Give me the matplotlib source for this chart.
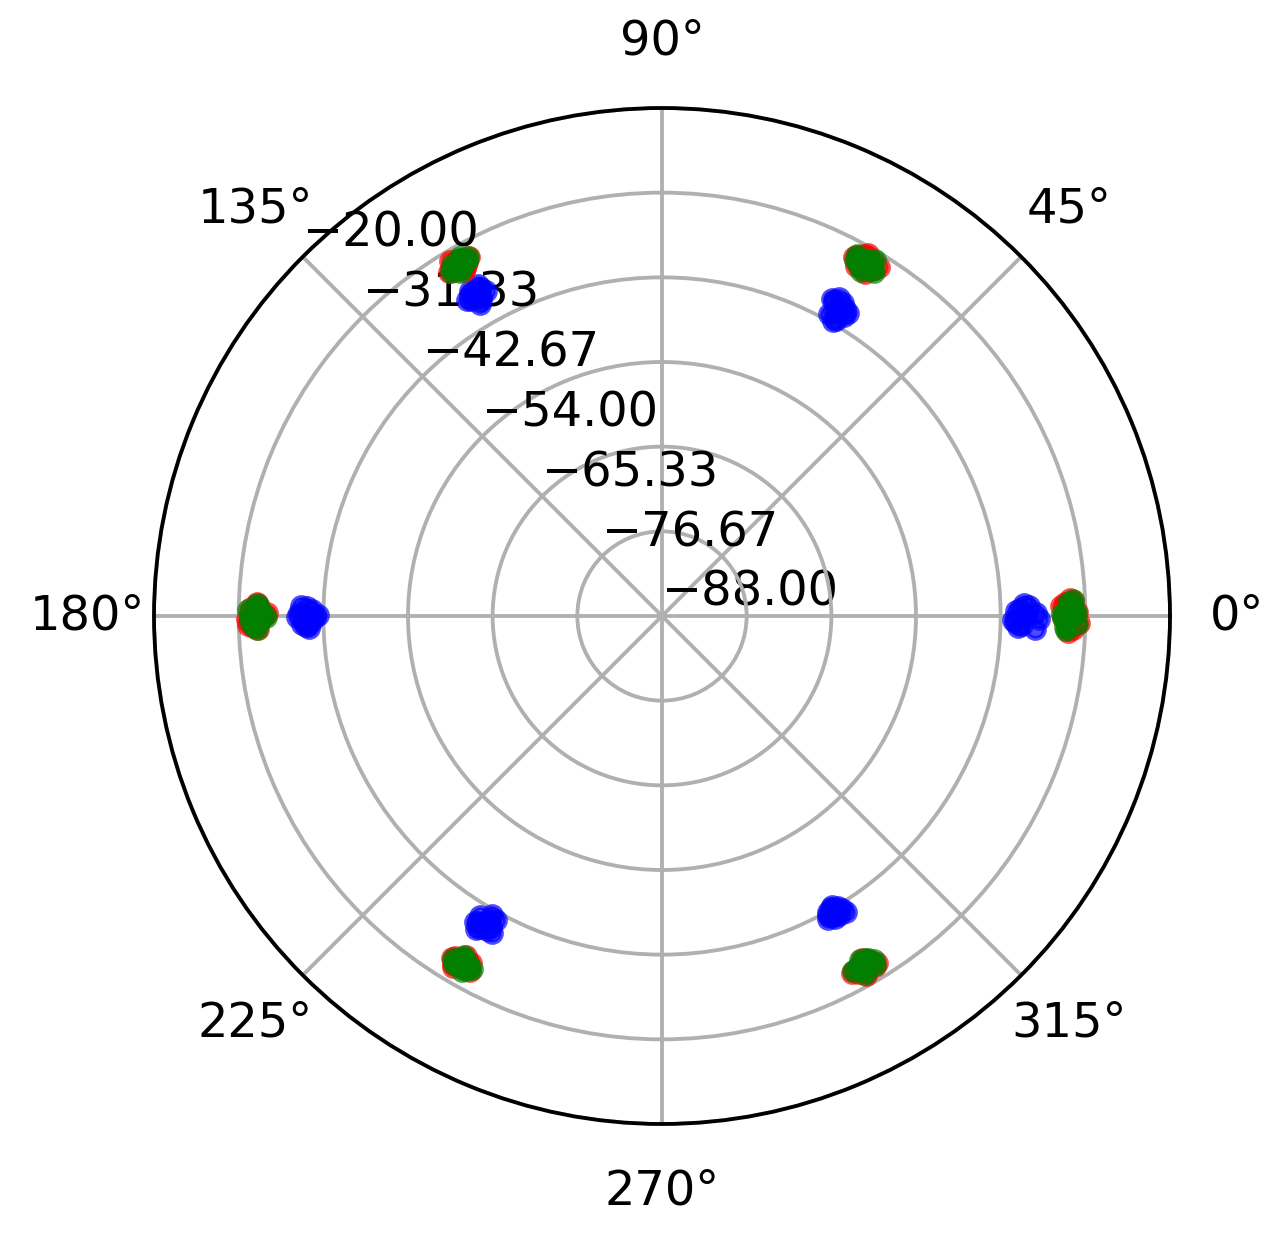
import numpy as np
import matplotlib
matplotlib.use("Agg")
import matplotlib.pyplot as plt
import matplotlib.ticker as ticker

# r ticks, rings from -88 at centre to -20 at edge
r_ticks = [-88.00, -76.67, -65.33, -54.00, -42.67, -31.33, -20.00]

# blue series: angle (deg), radius -- one line per cluster
blue_th = [-1.5, 0.8, 1.6, -0.4, 0.2, -2.0, 1.1, -1.0, 1.9, -1.8, 0.5, -0.7,
           59.2, 60.5, 61.3, 58.8, 60.0, 61.0, 59.6, 60.2, 58.5, 61.8, 59.9, 60.8,
           119.2, 120.6, 121.2, 119.8, 120.1, 118.9, 120.9, 119.5, 121.6, 118.5, 120.3, 119.0,
           178.6, 180.9, 181.3, 179.5, 180.2, 181.6, 179.0, 180.5, 178.4, 181.9, 179.8, 180.1,
           239.0, 240.5, 241.2, 239.6, 240.9, 238.8, 240.1, 241.4, 238.5, 241.8, 240.3, 239.3,
           299.5, 301.2, 300.6, 299.0, 301.6, 300.1, 299.8, 300.9, 298.7, 301.9, 300.3, 299.3]
blue_r = [-39.8, -40.6, -38.9, -37.6, -39.2, -38.1, -40.1, -40.8, -39.5, -40.3, -37.9, -41.0,
          -40.2, -41.3, -40.0, -41.0, -39.6, -41.8, -42.0, -40.6, -40.4, -39.9, -42.3, -39.3,
          -38.0, -37.5, -38.6, -39.2, -38.2, -37.8, -37.9, -38.9, -38.3, -38.5, -39.6, -37.3,
          -40.5, -41.0, -39.8, -39.4, -41.6, -40.3, -41.2, -40.0, -39.6, -40.7, -42.0, -39.2,
          -40.2, -41.3, -40.5, -39.6, -39.9, -41.0, -40.9, -41.6, -40.0, -39.8, -42.0, -39.2,
          -41.8, -42.5, -41.5, -42.2, -41.9, -42.8, -41.4, -42.1, -41.7, -41.3, -43.0, -42.6]

# red series
red_th = [1.8, -1.2, 0.5, -0.3, 1.0, -1.8, 0.2, 2.1, -2.2, 1.5, -0.9, 2.4,
          58.5, 60.6, 61.5, 59.6, 60.2, 61.0, 59.0, 60.9, 58.2, 61.9, 59.4, 60.4,
          118.8, 120.2, 121.0, 119.6, 120.6, 119.2, 120.0, 121.3, 118.3, 121.7, 119.9, 120.8,
          178.5, 180.2, 181.6, 179.3, 180.9, 181.2, 179.8, 178.9, 178.1, 181.9, 180.4, 179.6,
          239.0, 240.8, 240.2, 239.5, 241.1, 239.9, 238.8, 240.5, 238.4, 241.6, 240.0, 239.2,
          298.8, 300.5, 301.3, 299.4, 300.9, 299.9, 298.5, 301.0, 298.1, 301.8, 300.2, 299.6]
red_r = [-34.0, -33.5, -32.5, -34.3, -33.2, -33.0, -33.8, -32.9, -33.6, -34.6, -32.2, -33.4,
         -33.6, -34.2, -33.2, -32.9, -33.8, -34.4, -34.0, -32.7, -33.0, -33.5, -34.7, -32.3,
         -33.9, -33.3, -34.1, -34.5, -33.6, -34.2, -33.0, -33.7, -33.4, -33.8, -34.8, -32.7,
         -33.9, -34.6, -33.2, -33.5, -34.1, -32.6, -34.8, -33.0, -33.7, -33.9, -32.4, -35.1,
         -33.6, -34.9, -34.2, -34.0, -35.0, -33.9, -34.6, -34.5, -34.3, -34.0, -35.4, -33.3,
         -33.5, -34.1, -33.2, -33.9, -34.4, -33.0, -34.0, -33.6, -33.9, -33.4, -34.8, -32.7]

# green series
green_th = [0.9, -0.8, 1.4, -1.5, 0.1, 1.9, -0.2, 0.6, -2.0, 2.2, 0.3, -1.1,
            59.3, 60.1, 61.2, 59.8, 60.7, 58.9, 60.4, 61.6, 58.4, 61.6, 60.0, 59.1,
            119.1, 120.4, 120.9, 119.8, 121.1, 119.5, 120.2, 118.7, 118.4, 121.5, 120.5, 119.4,
            179.0, 180.6, 181.4, 179.7, 180.3, 178.7, 181.0, 179.9, 178.3, 181.8, 180.1, 179.2,
            239.3, 240.4, 241.0, 239.7, 240.9, 239.1, 240.2, 241.3, 238.6, 241.7, 239.8, 240.6,
            299.2, 300.2, 301.0, 299.7, 300.6, 299.0, 300.4, 301.4, 298.3, 301.7, 300.0, 299.5]
green_r = [-33.4, -33.9, -33.1, -34.0, -32.8, -33.6, -34.3, -32.6, -33.9, -32.9, -34.5, -32.4,
           -33.3, -33.9, -33.5, -32.9, -34.1, -33.7, -33.2, -33.8, -33.9, -33.0, -34.6, -32.5,
           -33.8, -33.5, -33.2, -34.1, -33.8, -33.1, -34.0, -33.6, -33.4, -34.0, -34.6, -32.8,
           -33.6, -34.2, -33.4, -34.5, -32.9, -34.0, -33.0, -33.3, -33.8, -33.7, -35.0, -32.6,
           -34.0, -34.4, -33.8, -35.0, -34.7, -33.7, -34.9, -34.3, -34.2, -34.4, -35.3, -33.4,
           -34.2, -33.8, -34.5, -33.4, -34.6, -33.9, -34.0, -33.3, -34.0, -33.9, -34.9, -32.9]

DPI = 345
fig = plt.figure(figsize=(1282 / DPI, 1242 / DPI), dpi=DPI)
cx, cy, rad = 662, 616, 508
ax = fig.add_axes([(cx - rad) / 1282, (1242 - cy - rad) / 1242,
                   2 * rad / 1282, 2 * rad / 1242], projection="polar")

for th, rr, col in [(blue_th, blue_r, "blue"), (red_th, red_r, "red"),
                    (green_th, green_r, "green")]:
    ax.scatter(np.deg2rad(th), rr, s=14, c=col, alpha=0.7, zorder=3)

ax.set_rlim(-88, -20)
ax.set_rticks(r_ticks)
ax.yaxis.set_major_formatter(
    ticker.FuncFormatter(lambda v, p: f"{v:.2f}".replace("-", "\u2212")))
ax.set_rlabel_position(135)
ax.grid(True)

fig.savefig("out.png", dpi=DPI)
